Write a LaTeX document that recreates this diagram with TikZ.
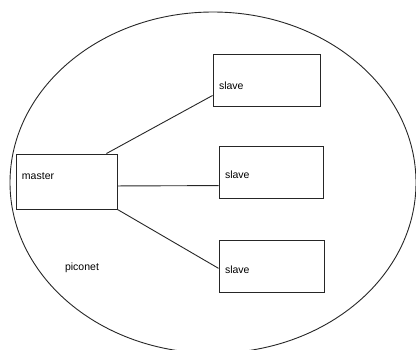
\documentclass[tikz,border=0pt]{standalone}
\usepackage{fontspec}
\setmainfont{Liberation Sans}
\usetikzlibrary{positioning}

\begin{document}
\begin{tikzpicture}[x=1pt,y=-1pt,font=\fontsize{10.5}{12}\selectfont,
  wire/.style={draw=black!85,line width=0.9pt},
  device/.style={wire,rectangle,minimum width=105pt,minimum height=52pt,text width=93pt,inner xsep=6pt,inner ysep=0pt,align=left,text depth=2pt},
  host/.style={device,minimum width=101pt,minimum height=55pt,text width=89pt},
]
\useasboundingbox (0,0) rectangle (416,349);

\draw[wire] (213,182.6) ellipse [x radius=203, y radius=170.6];

\node[host,text height=8pt,text depth=13pt] (master) at (66.5,181.5) {master};
\node[device,minimum width=107pt,text width=95pt,text height=20pt] (slave1) at (266.5,80) {slave};
\node[device,minimum width=104pt,text width=92pt,text height=13pt] (slave2) at (271,172.5) {slave};
\node[device,minimum width=105pt,text width=93pt,text height=15pt] (slave3) at (271.5,266.5) {slave};

\node (piconet) at (82,268) {piconet};

\draw[wire] (master.35.5) -- (slave1.196);
\draw[wire] (master.-5) -- (slave2.194.5);
\draw[wire] (master.south east) -- (slave3.182);

\end{tikzpicture}
\end{document}
